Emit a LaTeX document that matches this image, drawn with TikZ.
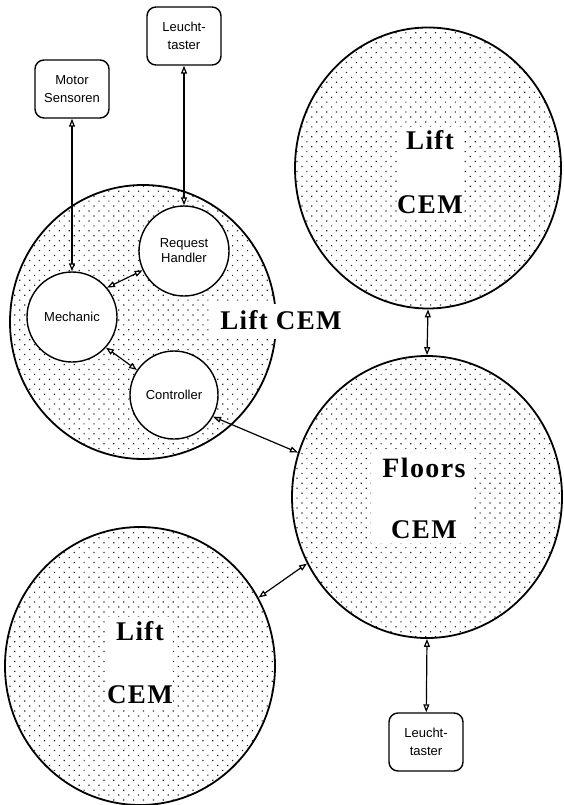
\documentclass[tikz,border=0pt]{standalone}
\usepackage{fontspec}
\setmainfont{Liberation Serif}
\newfontfamily\smallfont{Liberation Sans}
\newfontfamily\bigfont[LetterSpace=5]{Liberation Serif}
\usetikzlibrary{shapes.geometric,arrows.meta,patterns.meta}
\begin{document}
\begin{tikzpicture}[x=1pt,y=-1pt,
  cem/.style={ellipse, draw, line width=1.8pt, inner sep=0pt,
    pattern={Dots[radius=0.85pt,distance=7pt,angle=45]}, pattern color=black!85},
  sub/.style={circle, draw, fill=white, line width=1.4pt, inner sep=0pt, align=center,
    minimum size=90pt, font=\smallfont\fontsize{13}{15}\selectfont},
  ext/.style={draw, fill=white, rounded corners=9pt, line width=1.4pt,
    minimum width=74pt, minimum height=58pt, inner sep=1pt, align=center,
    font=\smallfont\fontsize{13}{18}\selectfont},
  lab/.style={anchor=base, inner sep=0pt, font=\bigfont\bfseries\fontsize{27}{30}\selectfont},
  wbox/.style={fill=white, inner sep=0pt},
  arr/.style={{Triangle[open,length=8pt,width=6pt]}-{Triangle[open,length=8pt,width=6pt]}, line width=1.2pt}
]
\useasboundingbox (0,0) rectangle (563,805);
\fill[white] (0,0) rectangle (563,805);

% big CEM ellipses
\node[cem, minimum width=266pt, minimum height=274pt] (leftl) at (143,322) {};
\node[cem, minimum width=266pt, minimum height=281pt] (topl) at (428,168) {};
\node[cem, minimum width=270pt, minimum height=282pt] (floors) at (427,497) {};
\node[cem, minimum width=270pt, minimum height=278pt] (botl) at (140,666) {};

% white label boxes
\node[wbox, minimum width=138pt, minimum height=35pt] (lbox) at (281,321) {};
\node[wbox, minimum width=65pt, minimum height=90pt] (tbox) at (430,172) {};
\node[wbox, minimum width=103pt, minimum height=90pt] (fbox) at (422,498) {};
\node[wbox, minimum width=66pt, minimum height=90pt] (bbox) at (140,662) {};

% labels
\node[lab] (lliftcem) at (281,329) {Lift CEM};
\node[lab] (tlift) at (430,150) {Lift};
\node[lab] (tcem) at (430,213) {CEM};
\node[lab, font=\bigfont\bfseries\fontsize{28}{30}\selectfont] (ffloors) at (424,477) {Floors};
\node[lab] (fcem) at (424,538) {CEM};
\node[lab] (blift) at (140,640) {Lift};
\node[lab] (bcem) at (140,703) {CEM};

% inner circles
\node[sub] (rh) at (184,251) {Request\\Handler};
\node[sub] (mech) at (72,317) {Mechanic};
\node[sub, minimum size=88pt] (ctrl) at (174,395) {Controller};

% external boxes
\node[ext] (ms) at (72,89) {Motor\\Sensoren};
\node[ext] (lt1) at (184,36) {Leucht-\\taster};
\node[ext] (lt2) at (426,742) {Leucht-\\taster};

% connectors
\draw[arr] (ms) -- (mech);
\draw[arr] (lt1) -- (rh);
\draw[arr] (rh.205) -- (mech.40);
\draw[arr] (mech.318) -- (ctrl.146);
\draw[arr] (ctrl.331) -- (floors.161);
\draw[arr] (topl.south) -- (floors.north);
\draw[arr] (floors.209) -- (botl.30);
\draw[arr] (floors.south) -- (lt2);
\end{tikzpicture}
\end{document}
